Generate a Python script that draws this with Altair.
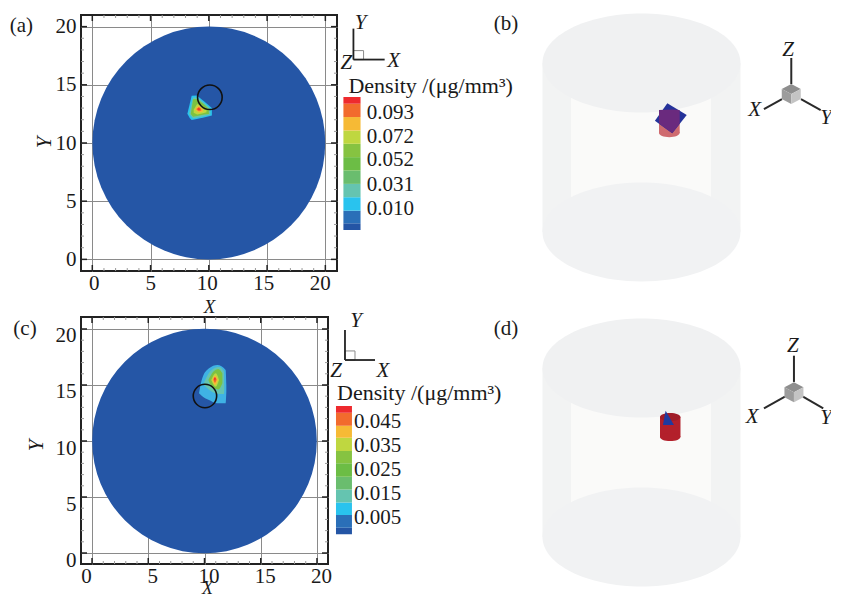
import altair as alt
import pandas as pd

SERIF = "Liberation Serif"
INK = "#1a1a1a"
DISC_BLUE = "#2556A6"

major_ticks = [0, 5, 10, 15, 20]
minor_ticks = [1, 2, 3, 4, 6, 7, 8, 9, 11, 12, 13, 14, 16, 17, 18, 19]

band_colors = ["#2455A5", "#2A6FB8", "#29C3EE", "#65C4B0", "#6ABD6E", "#6CBD45",
               "#86C341", "#BFD740", "#F6BA35", "#F26B2D", "#EE2A2E"]
a_level_colors = ["#29C3EE", "#65C4B0", "#7CC242", "#BFD740", "#F6BA35", "#F26B2D", "#EE2A2E"]
c_level_colors = ["#3FB2E4", "#65C4B0", "#7CC242", "#BFD740", "#F6BA35", "#F26B2D", "#EE2A2E"]

# Panel (a): contour levels, outermost first (x, upper y, lower y)
a_contours = [
    ([8.16, 8.36, 8.53, 8.97, 9.66, 10.26], [12.51, 13.36, 14.05, 14.08, 13.52, 13.0], [12.51, 12.15, 11.98, 12.06, 12.21, 12.36]),
    ([8.3, 8.5, 8.65, 9.0, 9.66, 10.12], [12.5, 13.3, 13.92, 13.93, 13.4, 12.95], [12.5, 12.27, 12.1, 12.18, 12.33, 12.42]),
    ([8.45, 8.65, 9.0, 9.6, 10.0], [12.5, 13.75, 13.78, 13.3, 12.95], [12.5, 12.25, 12.32, 12.45, 12.5]),
    ([8.7, 9.0, 9.5, 9.8], [12.85, 13.35, 13.1, 12.85], [12.6, 12.45, 12.55, 12.65]),
    ([8.85, 9.14, 9.5], [12.95, 13.2, 12.9], [12.85, 12.6, 12.7]),
    ([8.95, 9.14, 9.35], [12.95, 13.1, 12.95], [12.85, 12.72, 12.78]),
    ([9.03, 9.14, 9.25], [12.93, 13.0, 12.93], [12.9, 12.83, 12.88]),
]
# Panel (c)
c_contours = [
    ([9.51, 9.8, 10.4, 11.14, 11.88, 11.94], [14.26, 15.6, 16.49, 16.79, 16.34, 15.0], [14.26, 14.0, 13.66, 13.37, 13.37, 14.4]),
    ([9.96, 10.5, 11.29, 11.73, 11.76], [15.2, 16.2, 16.6, 16.2, 14.6], [15.0, 14.5, 14.2, 14.2, 14.6]),
    ([10.34, 10.8, 11.23, 11.59], [15.45, 16.2, 16.43, 16.04], [15.45, 14.7, 14.6, 15.15]),
    ([10.6, 11.0, 11.29], [15.45, 16.04, 15.45], [15.45, 14.85, 15.45]),
    ([10.7, 10.93, 11.2], [15.45, 15.83, 15.45], [15.45, 15.0, 15.45]),
    ([10.78, 10.93, 11.08], [15.5, 15.72, 15.5], [15.5, 15.2, 15.5]),
    ([10.85, 10.93, 11.0], [15.55, 15.66, 15.55], [15.55, 15.38, 15.55]),
]

a_band_edges = [-0.0082, -0.0024, 0.0085, 0.0201, 0.0316, 0.0431, 0.0547, 0.0662, 0.0777, 0.0893, 0.1008, 0.1066]
a_band_labels = [0.093, 0.072, 0.052, 0.031, 0.010]
c_band_edges = [-0.0018, 0.0009, 0.0062, 0.0115, 0.0169, 0.0222, 0.0278, 0.0329, 0.0385, 0.0435, 0.0489, 0.0517]
c_band_labels = [0.045, 0.035, 0.025, 0.015, 0.005]

LEGEND_TITLE = "Density /(\u03bcg/mm\u00b3)"


def text_layer(rows, size=20, style="normal", align="center", xs=None, ys=None):
    df = pd.DataFrame(rows, columns=["t", "x", "y"])
    return alt.Chart(df).mark_text(font=SERIF, fontSize=size, fontStyle=style, align=align,
                                   baseline="middle", color=INK).encode(
        x=alt.X("x:Q", scale=xs, axis=None),
        y=alt.Y("y:Q", scale=ys, axis=None),
        text="t:N")


def left_panel(W, H, xdom, ydom, contours, level_colors, interp, disc_size, ring, ring_size, x_off, y_off,
               x_title, x_title_size, y_title, tag, triad, edges, band_labels, cb, cb_range, label_x, title_pos):
    xs = alt.Scale(domain=xdom, nice=False, zero=False)
    ys = alt.Scale(domain=ydom, nice=False, zero=False)
    ctr = pd.DataFrame({"x": [10], "y": [10]})
    x_axis = alt.Axis(values=major_ticks, title="X", grid=True, gridColor="#8a8a8a", gridWidth=1,
                      domain=False, ticks=False, labelFont=SERIF, labelFontSize=21, labelColor=INK,
                      labelPadding=1, labelOffset=x_off, format="d", labelFlush=False, labelOverlap=False,
                      titleFont=SERIF, titleFontSize=x_title_size, titleFontStyle="italic", titleFontWeight="normal",
                      titleColor=INK, titleX=x_title[0], titleY=x_title[1], titleBaseline="middle")
    y_axis = alt.Axis(values=major_ticks, title="Y", grid=True, gridColor="#8a8a8a", gridWidth=1,
                      domain=False, ticks=False, labelFont=SERIF, labelFontSize=21, labelColor=INK,
                      labelPadding=5, labelOffset=y_off, format="d", labelFlush=False, labelOverlap=False,
                      titleFont=SERIF, titleFontSize=21, titleFontStyle="italic", titleFontWeight="normal",
                      titleColor=INK, titleX=y_title[0], titleY=y_title[1], titleBaseline="middle")
    layers = [alt.Chart(ctr).mark_circle(size=disc_size, color=DISC_BLUE, opacity=1).encode(
        x=alt.X("x:Q", scale=xs, axis=x_axis), y=alt.Y("y:Q", scale=ys, axis=y_axis))]

    # inward ticks on all four sides
    for vals, col, w, ln in [(minor_ticks, "#9a9a9a", 1, 3), (major_ticks, "#222222", 1.5, 6)]:
        d = pd.DataFrame({"v": vals})
        base = alt.Chart(d).mark_rule(color=col, strokeWidth=w)
        layers += [
            base.encode(x=alt.X("v:Q", scale=xs, axis=None), y=alt.value(H), y2=alt.value(H - ln)),
            base.encode(x=alt.X("v:Q", scale=xs, axis=None), y=alt.value(0), y2=alt.value(ln)),
            base.encode(y=alt.Y("v:Q", scale=ys, axis=None), x=alt.value(0), x2=alt.value(ln)),
            base.encode(y=alt.Y("v:Q", scale=ys, axis=None), x=alt.value(W), x2=alt.value(W - ln)),
        ]

    # contour levels
    for (cx, hi, lo), col in zip(contours, level_colors):
        d = pd.DataFrame({"x": cx, "hi": hi, "lo": lo})
        layers.append(alt.Chart(d).mark_area(color=col, opacity=1, interpolate=interp).encode(
            x=alt.X("x:Q", scale=xs, axis=None),
            y=alt.Y("hi:Q", scale=ys, axis=None), y2="lo:Q"))

    # true-position ring
    layers.append(alt.Chart(pd.DataFrame({"x": [ring[0]], "y": [ring[1]]})).mark_point(
        shape="circle", size=ring_size, color="#111111", strokeWidth=1.6, filled=False, opacity=1).encode(
        x=alt.X("x:Q", scale=xs, axis=None), y=alt.Y("y:Q", scale=ys, axis=None)))

    # axis triad
    square = pd.DataFrame({"x": [triad["sq"][0]], "x2": [triad["sq"][1]], "y": [triad["sq"][2]], "y2": [triad["sq"][3]]})
    layers.append(alt.Chart(square).mark_rect(fill="white", stroke="#8a8a8a", strokeWidth=1).encode(
        x=alt.X("x:Q", scale=xs, axis=None), x2="x2:Q",
        y=alt.Y("y:Q", scale=ys, axis=None), y2="y2:Q"))
    arms = pd.DataFrame({"x": triad["ax"], "x2": triad["ax2"], "y": triad["ay"], "y2": triad["ay2"]})
    layers.append(alt.Chart(arms).mark_rule(color="#222222", strokeWidth=1.8).encode(
        x=alt.X("x:Q", scale=xs, axis=None), x2="x2:Q",
        y=alt.Y("y:Q", scale=ys, axis=None), y2="y2:Q"))
    layers.append(text_layer(triad["labels"], size=21, style="italic", xs=xs, ys=ys))
    layers.append(text_layer([tag], size=21, xs=xs, ys=ys))
    layers.append(text_layer([[LEGEND_TITLE, title_pos[0], title_pos[1]]], size=22, align="left", xs=xs, ys=ys))

    # colour bar on its own density scale
    ds = alt.Scale(domain=[edges[0], edges[-1]], range=cb_range, nice=False, zero=False)
    bands = pd.DataFrame({"lo": edges[:-1], "hi": edges[1:], "c": band_colors,
                          "x": [cb[0]] * 11, "x2": [cb[1]] * 11})
    bar = alt.Chart(bands).mark_rect().encode(
        x=alt.X("x:Q", scale=xs, axis=None), x2="x2:Q",
        y=alt.Y("lo:Q", scale=ds, axis=None), y2="hi:Q",
        color=alt.Color("c:N", scale=None))
    labs = pd.DataFrame({"v": band_labels, "x": [label_x] * 5, "t": [f"{v:.3f}" for v in band_labels]})
    lab = alt.Chart(labs).mark_text(font=SERIF, fontSize=21, align="left", baseline="middle", color=INK).encode(
        x=alt.X("x:Q", scale=xs, axis=None), y=alt.Y("v:Q", scale=ds, axis=None), text="t:N")

    return alt.layer(*layers, bar, lab).resolve_scale(y="independent").resolve_axis(x="independent").properties(
        width=W, height=H, view=alt.ViewBackground(stroke="#222222", strokeWidth=2))


TOP_PATH = "M-1,0A1,0.5 0 1 1 1,0A1,0.5 0 1 1 -1,0Z"
FACE_TOP = "M0,-1L0.95,-0.5L0,0L-0.95,-0.5Z"
FACE_LEFT = "M-0.95,-0.5L0,0L0,1L-0.95,0.5Z"
FACE_RIGHT = "M0.95,-0.5L0,0L0,1L0.95,0.5Z"


def right_panel(W, H, xdom, ydom, tag, pieces, triad):
    xs = alt.Scale(domain=xdom, nice=False, zero=False)
    ys = alt.Scale(domain=ydom, nice=False, zero=False)

    def rect(x0, x1, y0, y1, col):
        return alt.Chart(pd.DataFrame({"x": [x0], "x2": [x1], "y": [y0], "y2": [y1]})).mark_rect(color=col, opacity=1).encode(
            x=alt.X("x:Q", scale=xs, axis=None), x2="x2:Q",
            y=alt.Y("y:Q", scale=ys, axis=None), y2="y2:Q")

    def sym(x, y, path, size, col):
        return alt.Chart(pd.DataFrame({"x": [x], "y": [y]})).mark_point(
            shape=path, size=size, color=col, filled=True, opacity=1).encode(
            x=alt.X("x:Q", scale=xs, axis=None), y=alt.Y("y:Q", scale=ys, axis=None))

    def poly(xv, hi, lo, col):
        return alt.Chart(pd.DataFrame({"x": xv, "hi": hi, "lo": lo})).mark_area(color=col, opacity=1).encode(
            x=alt.X("x:Q", scale=xs, axis=None),
            y=alt.Y("hi:Q", scale=ys, axis=None), y2="lo:Q")

    layers = [
        rect(-10, 10, 0, 17.07, "#F2F3F3"),
        rect(-7.12, 7.02, 0, 17.07, "#FAFAF9"),
        sym(0, 17.07, TOP_PATH, 39204, "#F0F1F2"),
        sym(0, 0, TOP_PATH, 39204, "#F1F2F3"),
    ]
    for p in pieces:
        if p[0] == "rect":
            layers.append(rect(*p[1:]))
        elif p[0] == "sym":
            layers.append(sym(*p[1:]))
        else:
            layers.append(poly(*p[1:]))

    arms = pd.DataFrame({"x": triad["ax"], "x2": triad["ax2"], "y": triad["ay"], "y2": triad["ay2"]})
    layers.append(alt.Chart(arms).mark_rule(color="#2a2a2a", strokeWidth=2).encode(
        x=alt.X("x:Q", scale=xs, axis=None), x2="x2:Q",
        y=alt.Y("y:Q", scale=ys, axis=None), y2="y2:Q"))
    cx, cy = triad["cube"]
    layers += [sym(cx, cy, FACE_TOP, 400, "#8E8E8E"),
               sym(cx, cy, FACE_LEFT, 400, "#9C9C9C"),
               sym(cx, cy, FACE_RIGHT, 400, "#C4C4C4")]
    layers.append(text_layer(triad["labels"], size=21, style="italic", xs=xs, ys=ys))
    layers.append(text_layer([tag], size=21, xs=xs, ys=ys))
    return alt.layer(*layers).properties(width=W, height=H)


panel_a = left_panel(
    256, 256, [-0.97, 21.0], [-1.0, 21.0], a_contours, a_level_colors, "linear", 54197, (10.09, 13.93), 605,
    alt.expr("1.5-0.35*datum.value"), 0, (128, 35), 19, (-37, 127), ["(a)", -6.09, 20.09],
    dict(sq=[22.41, 23.28, 17.94, 17.17], ax=[22.41, 22.41], ax2=[22.41, 25.09], ay=[19.83, 17.17], ay2=[17.17, 17.17],
         labels=[["Y", 23.02, 20.34], ["Z", 21.81, 16.91], ["X", 25.86, 17.08]]),
    a_band_edges, a_band_labels, (21.55, 23.02), [215, 82], 23.55, (21.98, 14.94))

panel_c = left_panel(
    247, 247, [-0.98, 20.98], [-0.98, 21.07], c_contours, c_level_colors, "monotone", 50445, (10.04, 14.02), 548,
    alt.expr("datum.value==0?-6:4"), 7, (126, 24), 18, (-45, 128), ["(c)", -5.96, 20.0],
    dict(sq=[22.49, 23.38, 18.04, 17.23], ax=[22.49, 22.49], ax2=[22.49, 25.16], ay=[19.91, 17.23], ay2=[17.23, 17.23],
         labels=[["Y", 23.47, 20.71], ["Z", 21.69, 16.25], ["X", 25.87, 16.25]]),
    c_band_edges, c_band_labels, (21.69, 23.11), [217.3, 89], 23.29, (21.78, 14.29))

b_pieces = [
    ("rect", 1.77, 3.86, 10.0, 12.0, "#CF6B70"),
    ("sym", 2.81, 10.0, "M-1,0A1,0.4 0 1 1 1,0A1,0.4 0 1 1 -1,0Z", 428, "#CF6B70"),
    ("poly", [1.36, 2.61, 3.11, 4.57], [11.24, 13.0, 12.7, 11.82], [11.24, 10.33, 9.97, 11.82], "#24329A"),
    ("poly", [1.77, 3.11, 3.86], [12.32, 12.37, 12.32], [10.95, 9.97, 10.96], "#6A2A7E"),
]
d_pieces = [
    ("rect", 1.87, 3.94, 10.1, 12.12, "#B3202B"),
    ("sym", 2.9, 10.1, "M-1,0A1,0.4 0 1 1 1,0A1,0.4 0 1 1 -1,0Z", 420, "#B3202B"),
    ("sym", 2.9, 12.12, "M-1,0A1,0.4 0 1 1 1,0A1,0.4 0 1 1 -1,0Z", 420, "#A01C28"),
    ("poly", [2.17, 2.44, 3.28], [11.31, 12.76, 11.31], [11.31, 11.31, 11.31], "#1F3AA0"),
]

panel_b = right_panel(
    330, 256, [-15.4, 17.93], [-3.94, 21.92], ["(b)", -13.69, 21.0], b_pieces,
    dict(ax=[15.13, 14.19, 16.11], ax2=[15.13, 12.37, 18.1], ay=[17.58, 13.43, 13.43], ay2=[14.95, 12.42, 12.32],
         cube=(15.13, 13.94),
         labels=[["Z", 14.8, 18.38], ["X", 11.43, 12.32], ["Y", 18.64, 11.5]]))
panel_d = right_panel(
    330, 256, [-15.4, 17.93], [-3.64, 22.22], ["(d)", -13.69, 21.0], d_pieces,
    dict(ax=[15.4, 14.49, 16.31], ax2=[15.4, 12.37, 18.36], ay=[18.31, 14.17, 14.17], ay2=[15.66, 13.0, 13.0],
         cube=(15.4, 14.62),
         labels=[["Z", 15.3, 19.32], ["X", 11.19, 12.15], ["Y", 18.64, 12.0]]))

chart = alt.concat(panel_a, panel_b, panel_c, panel_d, columns=2,
                   spacing=alt.RowColnumber(row=46, column=152),
                   bounds="flush", align="each").properties(
    padding={"left": 0, "top": 2, "right": -1, "bottom": 0}, background="white"
).configure_view(stroke=None)

chart.save("out.html", embed_options={"renderer": "svg", "actions": False})
